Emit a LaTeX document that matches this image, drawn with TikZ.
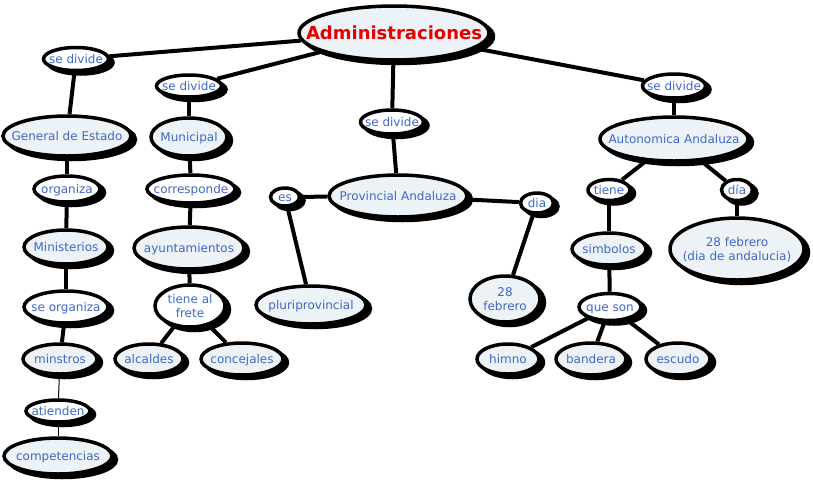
\documentclass[tikz,border=0pt]{standalone}
\usepackage{fontspec}
\setmainfont{DejaVu Sans}
\usetikzlibrary{shapes.geometric,shadows,backgrounds}
\definecolor{cmblue}{RGB}{62,104,204}
\definecolor{cmfill}{RGB}{236,242,246}
\definecolor{cmred}{RGB}{230,0,0}
\newcommand{\ctxt}[2][4.6pt]{\raisebox{-#1}[0pt][0pt]{\makebox[0pt]{\begin{tabular}{@{}c@{}}#2\end{tabular}}}}

\begin{document}
\begin{tikzpicture}[
  x=1pt,y=-1pt,
  concept/.style={ellipse,draw=black,line width=3.5pt,fill=cmfill,inner sep=0pt,
    text=cmblue,font=\fontsize{12}{14}\selectfont,
    drop shadow={shadow xshift=4.5pt,shadow yshift=-3.5pt,draw=black,fill=black,
      line width=3.5pt,opacity=1}},
  phrase/.style={concept,fill=white},
  link/.style={draw=black,line width=4pt},
  thinlink/.style={draw=black,line width=1pt}
]
  \useasboundingbox (0,0) rectangle (813,493);

  % top
  \node[concept,minimum width=190,minimum height=54,text=cmred,
    font=\fontsize{18}{20}\selectfont\bfseries] (admin) at (394,33) {\ctxt[7pt]{Administraciones}};
  \node[phrase,minimum width=65,minimum height=23] (div1) at (76,59) {\ctxt{se divide}};
  \node[phrase,minimum width=65,minimum height=22] (div2) at (189,86) {\ctxt{se divide}};
  \node[phrase,minimum width=63,minimum height=24] (div3) at (392,122) {\ctxt{se divide}};
  \node[phrase,minimum width=63,minimum height=24] (div4) at (674,86) {\ctxt{se divide}};

  % general de estado
  \node[concept,minimum width=128,minimum height=40] (general) at (67,136) {\ctxt{General de Estado}};
  \node[phrase,minimum width=66,minimum height=26] (organiza) at (67,189) {\ctxt{organiza}};
  \node[concept,minimum width=84,minimum height=34] (ministerios) at (66,247) {\ctxt{Ministerios}};
  \node[phrase,minimum width=84,minimum height=32] (seorg) at (66,307) {\ctxt{se organiza}};
  \node[concept,minimum width=74,minimum height=30] (minstros) at (60,359) {\ctxt{minstros}};
  \node[phrase,minimum width=64,minimum height=22] (atienden) at (58,411) {\ctxt{atienden}};
  \node[concept,minimum width=108,minimum height=36] (compet) at (58,456) {\ctxt{competencias}};

  % municipal
  \node[concept,minimum width=76,minimum height=38] (municipal) at (189,137) {\ctxt{Municipal}};
  \node[phrase,minimum width=88,minimum height=28] (corresp) at (191,189) {\ctxt{corresponde}};
  \node[concept,minimum width=110,minimum height=42] (ayunt) at (189,248) {\ctxt{ayuntamientos}};
  \node[phrase,minimum width=70,minimum height=42] (frete) at (190,306) {\ctxt{tiene al\\frete}};
  \node[concept,minimum width=68,minimum height=30] (alcaldes) at (149,359) {\ctxt{alcaldes}};
  \node[concept,minimum width=82,minimum height=32] (concejales) at (242,359) {\ctxt{concejales}};

  % provincial
  \node[concept,minimum width=138,minimum height=42] (provincial) at (398,196) {\ctxt{Provincial Andaluza}};
  \node[phrase,minimum width=29,minimum height=18] (es) at (285,197) {\ctxt{es}};
  \node[concept,minimum width=110,minimum height=38] (pluri) at (311,305) {\ctxt{pluriprovincial}};
  \node[phrase,minimum width=33,minimum height=20] (diap) at (537,203) {\ctxt{dia}};
  \node[concept,minimum width=70,minimum height=46] (febp) at (505,299) {\ctxt{28\\febrero}};

  % autonomica
  \node[concept,minimum width=148,minimum height=44] (autonom) at (674,139) {\ctxt{Autonomica Andaluza}};
  \node[phrase,minimum width=42,minimum height=21] (tiene) at (609,190) {\ctxt{tiene}};
  \node[phrase,minimum width=31,minimum height=21] (diaa) at (737,190) {\ctxt{día}};
  \node[concept,minimum width=74,minimum height=32] (simbolos) at (609,249) {\ctxt{simbolos}};
  \node[concept,minimum width=134,minimum height=62] (feba) at (737,249) {\ctxt{28 febrero\\(dia de andalucia)}};
  \node[phrase,minimum width=62,minimum height=27] (queson) at (610,307) {\ctxt{que son}};
  \node[concept,minimum width=62,minimum height=30] (himno) at (508,359) {\ctxt{himno}};
  \node[concept,minimum width=70,minimum height=32] (bandera) at (591,359) {\ctxt{bandera}};
  \node[concept,minimum width=64,minimum height=32] (escudo) at (678,359) {\ctxt{escudo}};

  \begin{scope}[on background layer]
    \draw[link] (admin) -- (div1);
    \draw[link] (admin) -- (div2);
    \draw[link] (admin) -- (div3);
    \draw[link] (admin) -- (div4);
    \draw[link] (div1) -- (general);
    \draw[link] (general) -- (organiza);
    \draw[link] (organiza) -- (ministerios);
    \draw[link] (ministerios) -- (seorg);
    \draw[link] (seorg) -- (minstros);
    \draw[thinlink] (minstros) -- (atienden);
    \draw[thinlink] (atienden) -- (compet);
    \draw[link] (div2) -- (municipal);
    \draw[link] (municipal) -- (corresp);
    \draw[link] (corresp) -- (ayunt);
    \draw[link] (ayunt) -- (frete);
    \draw[link] (frete) -- (alcaldes);
    \draw[link] (frete) -- (concejales);
    \draw[link] (div3) -- (provincial);
    \draw[link] (provincial) -- (es);
    \draw[link] (es) -- (pluri);
    \draw[link] (provincial) -- (diap);
    \draw[link] (diap) -- (febp);
    \draw[link] (div4) -- (autonom);
    \draw[link] (autonom) -- (tiene);
    \draw[link] (autonom) -- (diaa);
    \draw[link] (tiene) -- (simbolos);
    \draw[link] (diaa) -- (feba);
    \draw[link] (simbolos) -- (queson);
    \draw[link] (queson) -- (himno);
    \draw[link] (queson) -- (bandera);
    \draw[link] (queson) -- (escudo);
  \end{scope}
\end{tikzpicture}
\end{document}
